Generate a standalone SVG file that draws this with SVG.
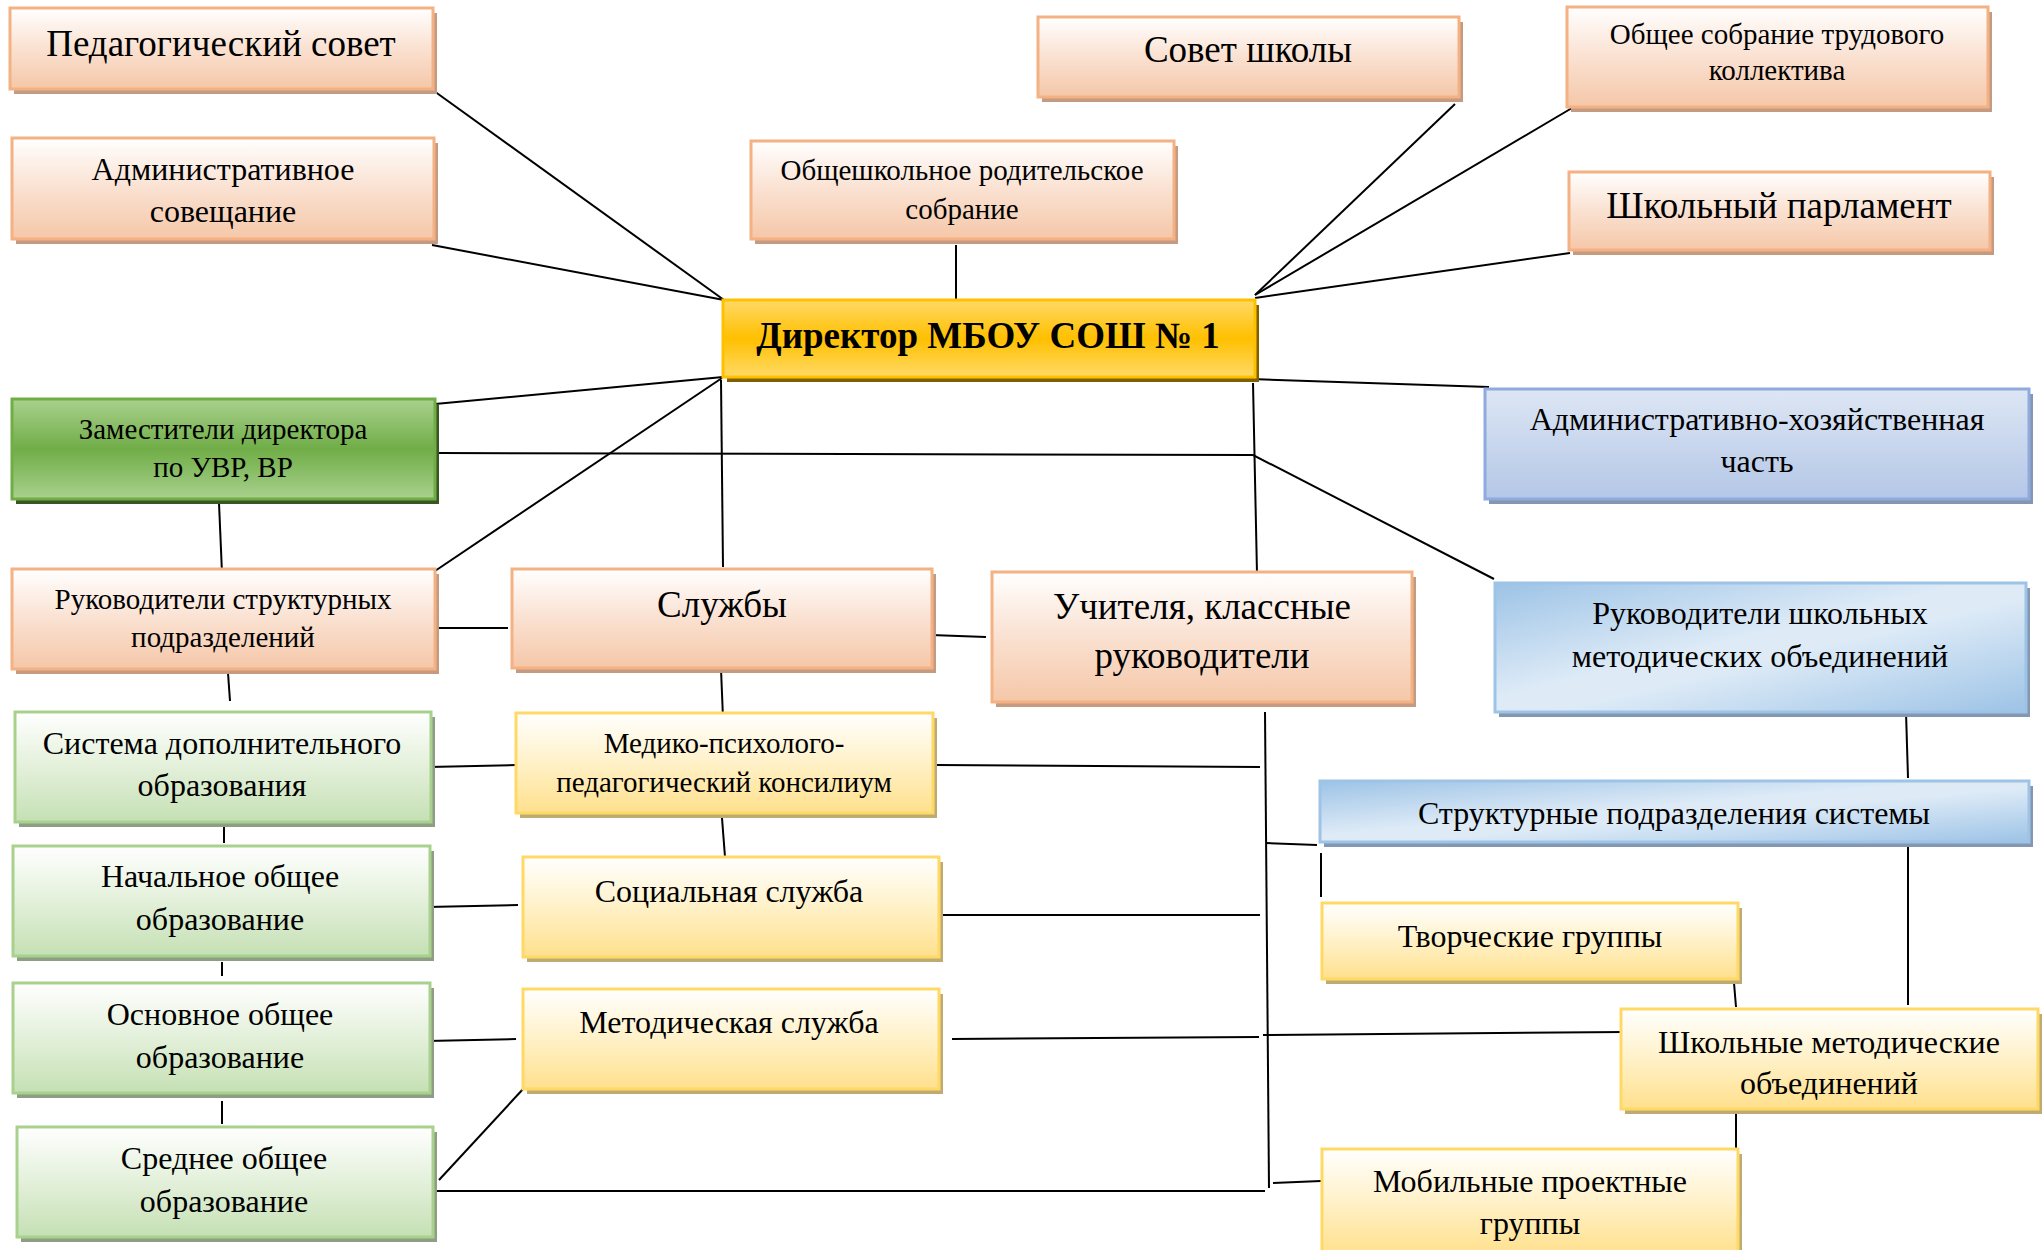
<svg xmlns="http://www.w3.org/2000/svg" width="2042" height="1250" viewBox="0 0 2042 1250">
<defs>
<linearGradient id="gPeach" x1="0" y1="0" x2="0" y2="1"><stop offset="0" stop-color="#FFFFFF"/><stop offset="0.5" stop-color="#FAE1D1"/><stop offset="1" stop-color="#F5C7A8"/></linearGradient>
<linearGradient id="gYellow" x1="0" y1="0" x2="0" y2="1"><stop offset="0" stop-color="#FFFFFF"/><stop offset="0.5" stop-color="#FFF1C8"/><stop offset="1" stop-color="#FFE08C"/></linearGradient>
<linearGradient id="gLGreen" x1="0" y1="0" x2="0" y2="1"><stop offset="0" stop-color="#FFFFFF"/><stop offset="0.5" stop-color="#E3F0DA"/><stop offset="1" stop-color="#C5E0B4"/></linearGradient>
<linearGradient id="gGold" x1="0" y1="0" x2="0" y2="1"><stop offset="0" stop-color="#FFD966"/><stop offset="0.5" stop-color="#FFC000"/><stop offset="1" stop-color="#FFD966"/></linearGradient>
<linearGradient id="gGreen" x1="0" y1="0" x2="0" y2="1"><stop offset="0" stop-color="#A9D18E"/><stop offset="0.5" stop-color="#70AD47"/><stop offset="1" stop-color="#A9D18E"/></linearGradient>
<linearGradient id="gBlueV" x1="0" y1="0" x2="0" y2="1"><stop offset="0" stop-color="#DDE6F4"/><stop offset="1" stop-color="#B4C7E7"/></linearGradient>
<linearGradient id="gBlueD" x1="0" y1="0" x2="1" y2="1"><stop offset="0" stop-color="#9DC3E6"/><stop offset="0.45" stop-color="#DEEBF7"/><stop offset="0.55" stop-color="#DEEBF7"/><stop offset="1" stop-color="#9DC3E6"/></linearGradient>
</defs>
<style>
.t{font-family:"Liberation Serif","Times New Roman",serif;fill:#000;text-anchor:middle}
.s{font-size:29px}.m{font-size:32px}.l{font-size:37px}.b{font-weight:bold}
.peach{fill:url(#gPeach);stroke:#F4B183;stroke-width:3}
.peach-sh{fill:#C49A80}
.yellow{fill:url(#gYellow);stroke:#FFD966;stroke-width:3}
.yellow-sh{fill:#BFAA72}
.lgreen{fill:url(#gLGreen);stroke:#A9D18E;stroke-width:3}
.lgreen-sh{fill:#8E9E85}
.gold{fill:url(#gGold);stroke:#FFC000;stroke-width:3}
.gold-sh{fill:#7F6000}
.green{fill:url(#gGreen);stroke:#70AD47;stroke-width:3}
.green-sh{fill:#385723}
.bluev{fill:url(#gBlueV);stroke:#8FAADC;stroke-width:3}
.blued{fill:url(#gBlueD);stroke:#9DC3E6;stroke-width:3}
.blue-sh{fill:#8497B0}
.c line,.c polyline{stroke:#000;stroke-width:2;fill:none}
</style>
<rect width="2042" height="1250" fill="#FFFFFF"/>

<g class="c" id="connectors">
<line x1="434" y1="91" x2="724" y2="300"/>
<line x1="432" y1="245" x2="724" y2="300"/>
<line x1="956" y1="245" x2="956" y2="307"/>
<line x1="1455" y1="104" x2="1255" y2="295"/>
<line x1="1572" y1="108" x2="1255" y2="295"/>
<line x1="1570" y1="253" x2="1255" y2="298"/>
<line x1="435" y1="404" x2="723" y2="377"/>
<line x1="432" y1="573" x2="722" y2="378"/>
<line x1="721" y1="380" x2="723" y2="567"/>
<polyline points="439,453 1253,455 1494,579"/>
<line x1="1251" y1="379" x2="1489" y2="387"/>
<line x1="1253" y1="383" x2="1257" y2="574"/>
<line x1="219" y1="503" x2="222" y2="573"/>
<line x1="431" y1="628" x2="508" y2="628"/>
<line x1="228" y1="673" x2="230" y2="701"/>
<line x1="931" y1="635" x2="986" y2="637"/>
<line x1="721" y1="669" x2="723" y2="718"/>
<line x1="429" y1="767" x2="516" y2="765"/>
<line x1="936" y1="765" x2="1260" y2="767"/>
<line x1="1265" y1="712" x2="1269" y2="1188"/>
<line x1="1266" y1="843" x2="1317" y2="845"/>
<line x1="1321" y1="853" x2="1321" y2="897"/>
<line x1="934" y1="915" x2="1260" y2="915"/>
<line x1="952" y1="1039" x2="1259" y2="1037"/>
<line x1="1263" y1="1035" x2="1625" y2="1032"/>
<line x1="427" y1="1191" x2="1265" y2="1191"/>
<line x1="1273" y1="1183" x2="1321" y2="1181"/>
<line x1="439" y1="1180" x2="524" y2="1088"/>
<line x1="224" y1="822" x2="224" y2="843"/>
<line x1="222" y1="962" x2="222" y2="976"/>
<line x1="222" y1="1101" x2="222" y2="1124"/>
<line x1="427" y1="907" x2="518" y2="905"/>
<line x1="427" y1="1041" x2="516" y2="1039"/>
<line x1="722" y1="818" x2="725" y2="857"/>
<line x1="1906" y1="712" x2="1908" y2="778"/>
<line x1="1908" y1="846" x2="1908" y2="1005"/>
<line x1="1734" y1="983" x2="1736" y2="1007"/>
<line x1="1736" y1="1113" x2="1736" y2="1150"/>
</g>

<g id="n-ped"><rect class="peach-sh" x="14" y="13" width="423" height="81"/><rect class="peach" x="10" y="8" width="423" height="81"/><text class="t l" x="221" y="56">Педагогический совет</text></g>
<g id="n-sovet"><rect class="peach-sh" x="1042" y="22" width="421" height="80"/><rect class="peach" x="1038" y="17" width="421" height="80"/><text class="t l" x="1248" y="62">Совет школы</text></g>
<g id="n-obshee"><rect class="peach-sh" x="1571" y="12" width="421" height="100"/><rect class="peach" x="1567" y="7" width="421" height="100"/><text class="t s" x="1777" y="44">Общее собрание трудового</text><text class="t s" x="1777" y="80">коллектива</text></g>
<g id="n-admin"><rect class="peach-sh" x="16" y="143" width="422" height="101"/><rect class="peach" x="12" y="138" width="422" height="101"/><text class="t m" x="223" y="180">Административное</text><text class="t m" x="223" y="222">совещание</text></g>
<g id="n-roditel"><rect class="peach-sh" x="755" y="146" width="423" height="98"/><rect class="peach" x="751" y="141" width="423" height="98"/><text class="t s" x="962" y="180">Общешкольное родительское</text><text class="t s" x="962" y="219">собрание</text></g>
<g id="n-parlament"><rect class="peach-sh" x="1573" y="177" width="421" height="78"/><rect class="peach" x="1569" y="172" width="421" height="78"/><text class="t l" x="1779" y="218">Школьный парламент</text></g>
<g id="n-director"><rect class="gold-sh" x="727" y="305" width="532" height="77"/><rect class="gold" x="723" y="300" width="532" height="77"/><text class="t l b" x="988" y="348">Директор МБОУ СОШ № 1</text></g>
<g id="n-zam"><rect class="green-sh" x="16" y="404" width="423" height="100"/><rect class="green" x="12" y="399" width="423" height="100"/><text class="t s" x="223" y="439">Заместители директора</text><text class="t s" x="223" y="477">по УВР, ВР</text></g>
<g id="n-ahch"><rect class="blue-sh" x="1489" y="394" width="544" height="110"/><rect class="bluev" x="1485" y="389" width="544" height="110"/><text class="t m" x="1757" y="430">Административно-хозяйственная</text><text class="t m" x="1757" y="472">часть</text></g>
<g id="n-rukstr"><rect class="peach-sh" x="16" y="574" width="423" height="100"/><rect class="peach" x="12" y="569" width="423" height="100"/><text class="t s" x="223" y="609">Руководители структурных</text><text class="t s" x="223" y="647">подразделений</text></g>
<g id="n-sluzhby"><rect class="peach-sh" x="516" y="574" width="420" height="99"/><rect class="peach" x="512" y="569" width="420" height="99"/><text class="t l" x="722" y="617">Службы</text></g>
<g id="n-uchitelya"><rect class="peach-sh" x="996" y="577" width="420" height="130"/><rect class="peach" x="992" y="572" width="420" height="130"/><text class="t l" x="1202" y="619">Учителя, классные</text><text class="t l" x="1202" y="668">руководители</text></g>
<g id="n-rukshk"><rect class="blue-sh" x="1499" y="588" width="531" height="129"/><rect class="blued" x="1495" y="583" width="531" height="129"/><text class="t m" x="1760" y="624">Руководители школьных</text><text class="t m" x="1760" y="667">методических объединений</text></g>
<g id="n-sistema"><rect class="lgreen-sh" x="19" y="717" width="416" height="110"/><rect class="lgreen" x="15" y="712" width="416" height="110"/><text class="t m" x="222" y="754">Система дополнительного</text><text class="t m" x="222" y="796">образования</text></g>
<g id="n-mediko"><rect class="yellow-sh" x="520" y="718" width="417" height="100"/><rect class="yellow" x="516" y="713" width="417" height="100"/><text class="t s" x="724" y="753">Медико-психолого-</text><text class="t s" x="724" y="792">педагогический консилиум</text></g>
<g id="n-strukt"><rect class="blue-sh" x="1324" y="786" width="709" height="61"/><rect class="blued" x="1320" y="781" width="709" height="61"/><text class="t m" x="1674" y="824">Структурные подразделения системы</text></g>
<g id="n-nach"><rect class="lgreen-sh" x="17" y="851" width="417" height="110"/><rect class="lgreen" x="13" y="846" width="417" height="110"/><text class="t m" x="220" y="887">Начальное общее</text><text class="t m" x="220" y="930">образование</text></g>
<g id="n-social"><rect class="yellow-sh" x="527" y="862" width="416" height="100"/><rect class="yellow" x="523" y="857" width="416" height="100"/><text class="t m" x="729" y="902">Социальная служба</text></g>
<g id="n-tvorch"><rect class="yellow-sh" x="1326" y="908" width="416" height="76"/><rect class="yellow" x="1322" y="903" width="416" height="76"/><text class="t m" x="1530" y="947">Творческие группы</text></g>
<g id="n-osn"><rect class="lgreen-sh" x="17" y="988" width="417" height="110"/><rect class="lgreen" x="13" y="983" width="417" height="110"/><text class="t m" x="220" y="1025">Основное общее</text><text class="t m" x="220" y="1068">образование</text></g>
<g id="n-metod"><rect class="yellow-sh" x="527" y="994" width="416" height="100"/><rect class="yellow" x="523" y="989" width="416" height="100"/><text class="t m" x="729" y="1033">Методическая служба</text></g>
<g id="n-shkmetod"><rect class="yellow-sh" x="1625" y="1014" width="417" height="100"/><rect class="yellow" x="1621" y="1009" width="417" height="100"/><text class="t m" x="1829" y="1053">Школьные методические</text><text class="t m" x="1829" y="1094">объединений</text></g>
<g id="n-sredn"><rect class="lgreen-sh" x="21" y="1132" width="416" height="110"/><rect class="lgreen" x="17" y="1127" width="416" height="110"/><text class="t m" x="224" y="1169">Среднее общее</text><text class="t m" x="224" y="1212">образование</text></g>
<g id="n-mobil"><rect class="yellow-sh" x="1326" y="1154" width="416" height="106"/><rect class="yellow" x="1322" y="1149" width="416" height="106"/><text class="t m" x="1530" y="1192">Мобильные проектные</text><text class="t m" x="1530" y="1234">группы</text></g>
</svg>
